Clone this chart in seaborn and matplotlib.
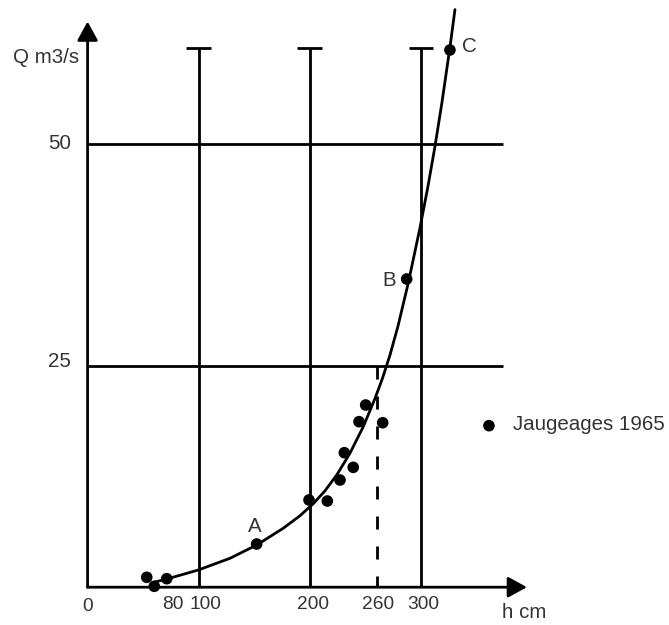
import matplotlib
matplotlib.use("Agg")
import matplotlib.pyplot as plt
import seaborn as sns
import pandas as pd

sns.set_theme(style="white")
plt.rcParams['font.family'] = ['Liberation Sans', 'DejaVu Sans']

# Rating curve (h cm -> Q m3/s)
curve_h = [58.84, 71.17, 99.60, 128.11, 152.14, 176.07, 191.09, 203.06, 213.59,
           224.38, 236.07, 248.04, 258.57, 265.32, 272.07, 279.26, 288.53,
           299.06, 306.25, 312.55, 318.85, 326.05, 330.54]
curve_q = [0.53, 0.92, 1.94, 3.26, 4.76, 6.65, 8.06, 9.42, 10.87,
           12.70, 15.11, 18.11, 21.28, 23.56, 26.19, 29.44, 34.32,
           40.53, 45.22, 49.72, 54.69, 60.92, 65.15]

# Gaugings 1965
gauge_h = [53.2, 60.0, 71.2, 152.1, 199.2, 215.7, 227.1, 231.0, 239.0, 244.2,
           250.2, 265.5, 287.1, 326.0]
gauge_q = [1.12, 0.1, 0.96, 4.87, 9.84, 9.72, 12.09, 15.17, 13.52, 18.67,
           20.55, 18.55, 34.76, 60.59]

point_labels = ["A", "B", "C"]
point_label_h = [150.6, 271.4, 343.4]
point_label_q = [6.8, 34.6, 61.0]

grid_v = [100, 200, 300]
grid_h = [25, 50]
dashed_h = 260
xtick_vals = [0, 80, 100, 200, 260, 300]
xtick_labels = ["0", "80", "100", "200", "260", "300"]
ytick_vals = [25, 50]
ytick_labels = ["25", "50"]

legend_label = "Jaugeages 1965"
x_label = "h cm"
y_label = "Q m3/s"

fig = plt.figure(figsize=(6.69, 6.25), dpi=100)
ax = fig.add_axes([0, 0, 1, 1])
ax.set_xlim(-78.8, 523.1)
ax.set_ylim((587.2 - 625) / 8.866, 587.2 / 8.866)
ax.axis('off')

lw = 2.0
txt_color = '#333333'
fs = 14.8

# grid lines
vtop = 60.8
for v in grid_v:
    ax.plot([v, v], [0, vtop], color='black', lw=lw, solid_capstyle='butt')
    ax.plot([v - 11.2, v + 11.2], [vtop, vtop], color='black', lw=lw, solid_capstyle='butt')
for q in grid_h:
    ax.plot([0, 373.7], [q, q], color='black', lw=lw, solid_capstyle='butt')
ax.plot([dashed_h, dashed_h], [25, 0], color='black', lw=lw,
        linestyle=(0, (4.7, 6.1)))

# axes with arrows
arrow_style = '-|>,head_length=1.15,head_width=0.63'
ax.annotate('', xy=(395.3, 0), xytext=(0, 0),
            arrowprops=dict(arrowstyle=arrow_style, mutation_scale=10, lw=lw,
                            color='black', shrinkA=0, shrinkB=0))
ax.annotate('', xy=(0, 63.8), xytext=(0, 0),
            arrowprops=dict(arrowstyle=arrow_style, mutation_scale=10, lw=lw,
                            color='black', shrinkA=0, shrinkB=0))

# curve
curve_df = pd.DataFrame({"h": curve_h, "Q": curve_q})
sns.lineplot(data=curve_df, x="h", y="Q", sort=False, estimator=None,
             color='black', lw=2.0, ax=ax)
ax.lines[-1].set_solid_joinstyle('round')

# gauging points
pts_df = pd.DataFrame({"h": gauge_h, "Q": gauge_q})
sns.scatterplot(data=pts_df, x="h", y="Q", color='black', s=70,
                edgecolor='none', ax=ax, zorder=5)

# legend (manual)
ax.scatter([361.1], [18.22], color='black', s=70, edgecolor='none', zorder=5)
ax.text(382.7, 18.3, legend_label, fontsize=fs, color=txt_color,
        ha='left', va='center')

# labels of points
for lab, hh, qq in zip(point_labels, point_label_h, point_label_q):
    ax.text(hh, qq, lab, fontsize=fs, color=txt_color, ha='center', va='center')

# tick labels
x_offsets = {0: 0, 80: -3, 100: 5.6, 200: 3, 260: 1, 300: 2}
for v, lab in zip(xtick_vals, xtick_labels):
    yy = -2.2 if v == 0 else -2.0
    ax.text(v + x_offsets[v], yy, lab, fontsize=13.8, color=txt_color,
            ha='center', va='center')
for v, lab in zip(ytick_vals, ytick_labels):
    ax.text(-15, v + (0.5 if v == 25 else 0.1), lab, fontsize=fs,
            color=txt_color, ha='right', va='center')

ax.text(372.8, -2.9, x_label, fontsize=fs, color=txt_color, ha='left', va='center')
ax.text(-7.5, 59.7, y_label, fontsize=fs, color=txt_color, ha='right', va='center')

ax.set_xlabel('')
ax.set_ylabel('')
fig.savefig('out.png', dpi=100, facecolor='white')
